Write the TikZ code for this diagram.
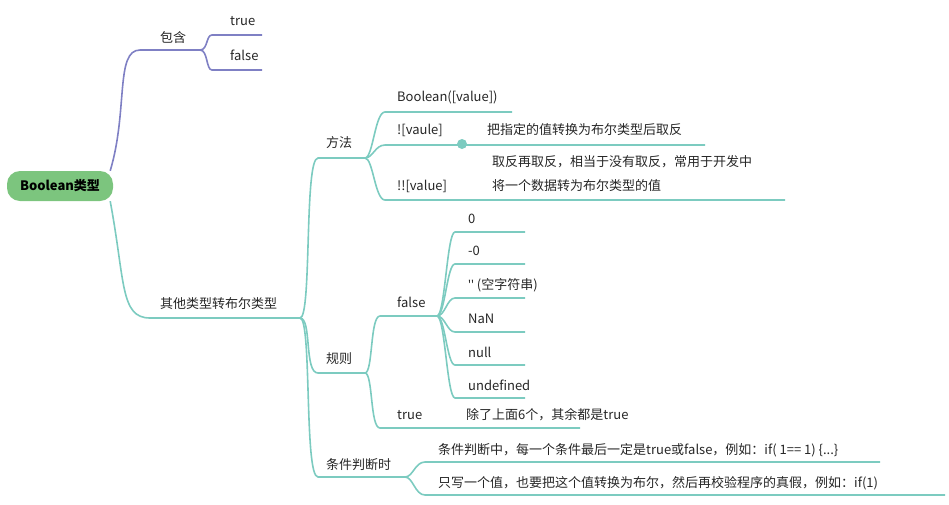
\documentclass[tikz,border=0pt]{standalone}
\usepackage{fontspec}
\setmainfont{Noto Sans CJK SC}
\newfontfamily\latf{Noto Sans}
\begin{document}
\begin{tikzpicture}[x=1pt,y=-1pt,
  tl/.style={draw=teal0,line width=1.6pt},
  pl/.style={draw=purp,line width=1.6pt},
  tx/.style={anchor=west,inner sep=0pt,font=\fontsize{13}{15}\selectfont,text=black!85}]
\definecolor{teal0}{HTML}{7CCBC0}
\definecolor{purp}{HTML}{7F80C4}
\definecolor{rootg}{HTML}{7CC57E}
\useasboundingbox (0,0) rectangle (949,504);
\node[fill=rootg,rounded corners=13pt,minimum width=106pt,minimum height=30pt,font=\bfseries\fontsize{13}{15}\selectfont] (root) at (60,186) {Boolean类型};
% branch 1
\coordinate (bA) at (140,50); \coordinate (bAe) at (200,50);
\coordinate (tA) at (212,35); \coordinate (tAe) at (262,35);
\coordinate (fA) at (212,70); \coordinate (fAe) at (262,70);
\draw[pl] ([xshift=-3pt]root.north east) .. controls +(18,-60) and +(-25,0) .. (bA) -- (bAe);
\draw[pl] (bAe) .. controls +(8,0) and +(-6,0) .. (tA) -- (tAe);
\draw[pl] (bAe) .. controls +(8,0) and +(-6,0) .. (fA) -- (fAe);
\node[tx] (n1) at (160,38) {包含};
\node[tx] (n2) at (230,21) {true};
\node[tx] (n3) at (230,55) {false};
% branch 2
\coordinate (oA) at (150,318); \coordinate (oAe) at (300,318);
\draw[tl] ([xshift=-3pt]root.south east) .. controls +(15,80) and +(-30,0) .. (oA) -- (oAe);
\node[tx] (n4) at (160,304) {其他类型转布尔类型};
\coordinate (mA) at (318,158); \coordinate (mAe) at (365,158);
\coordinate (gA) at (318,373); \coordinate (gAe) at (365,373);
\coordinate (cA) at (318,477); \coordinate (cAe) at (405,477);
\foreach \p/\q in {mA/mAe,gA/gAe,cA/cAe}
  \draw[tl] (oAe) .. controls +(12,0) and +(-14,0) .. (\p) -- (\q);
\node[tx] (n5) at (326,143) {方法};
\node[tx] (n6) at (326,359) {规则};
\node[tx] (n7) at (326,465) {条件判断时};
% methods
\coordinate (m1) at (385,112); \coordinate (m1e) at (512,112);
\coordinate (m2) at (385,145); \coordinate (m2e) at (705,145);
\coordinate (m3) at (385,200); \coordinate (m3e) at (785,200);
\foreach \p/\q in {m1/m1e,m2/m2e,m3/m3e}
  \draw[tl] (mAe) .. controls +(8,0) and +(-10,0) .. (\p) -- (\q);
\fill[teal0] (462,144) circle (5pt);
\node[tx] (t1) at (397,97) {Boolean([value])};
\node[tx] (t2) at (397,130) {![vaule]};
\node[tx] (t3) at (487,130) {把指定的值转换为布尔类型后取反};
\node[tx] (t4) at (397,186) {!![value]};
\node[tx] (t5) at (492,162) {取反再取反，相当于没有取反，常用于开发中};
\node[tx] (t6) at (492,186) {将一个数据转为布尔类型的值};
% rules
\coordinate (r1) at (380,316); \coordinate (r1e) at (437,316);
\coordinate (r2) at (380,428); \coordinate (r2e) at (580,428);
\foreach \p/\q in {r1/r1e,r2/r2e}
  \draw[tl] (gAe) .. controls +(8,0) and +(-10,0) .. (\p) -- (\q);
\node[tx] (u1) at (397,302) {false};
\node[tx] (u2) at (397,415) {true};
\node[tx] (u3) at (466,415) {除了上面6个，其余都是true};
\foreach \y/\t [count=\i] in {232/0,264/-0,298/{{\latf\symbol{39}\symbol{39}} (空字符串)},332/NaN,365/null,398/undefined}{
  \coordinate (f\i) at (455,\y); \coordinate (fe\i) at (525,\y);
  \draw[tl] (r1e) .. controls +(8,0) and +(-8,0) .. (f\i) -- (fe\i);
  \node[tx] (fv\i) at (468,\y-13) {\t};
}
% conditions
\coordinate (c1) at (425,462); \coordinate (c1e) at (880,462);
\coordinate (c2) at (425,495); \coordinate (c2e) at (945,495);
\foreach \p/\q in {c1/c1e,c2/c2e}
  \draw[tl] (cAe) .. controls +(8,0) and +(-10,0) .. (\p) -- (\q);
\node[tx] (v1) at (438,450) {条件判断中，每一个条件最后一定是true或false，例如：if( 1== 1) \{...\}};
\node[tx] (v2) at (438,483) {只写一个值，也要把这个值转换为布尔，然后再校验程序的真假，例如：if(1)};
\end{tikzpicture}
\end{document}
